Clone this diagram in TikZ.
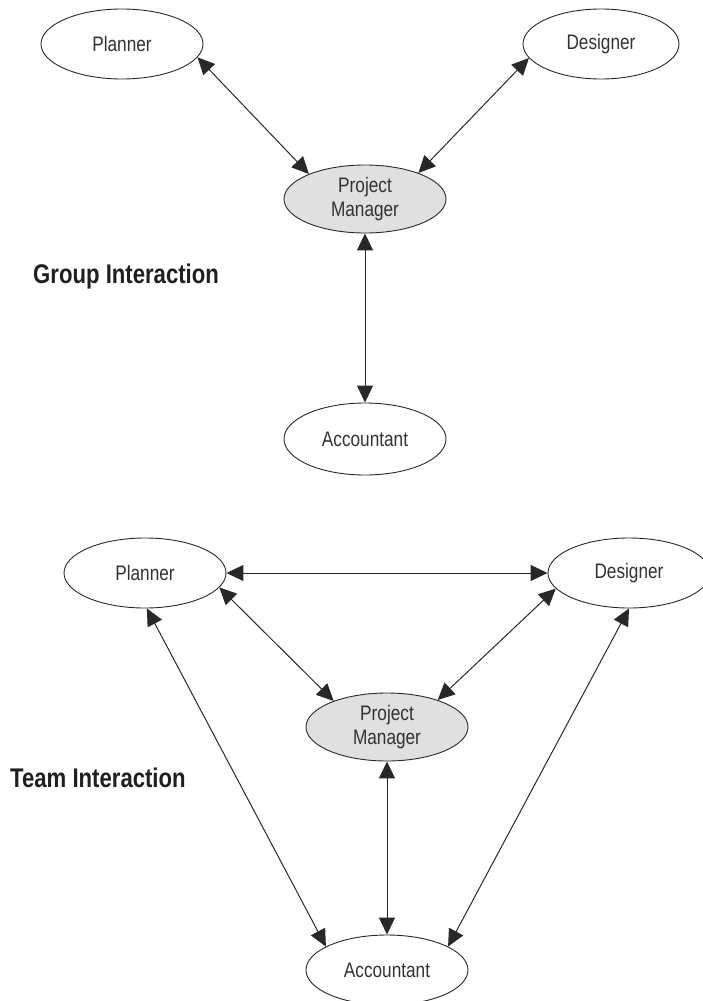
\documentclass[tikz,border=0pt]{standalone}
\usepackage{fontspec}
\setmainfont{Liberation Sans}[FakeStretch=0.82]
\usetikzlibrary{shapes.geometric,arrows.meta}
\definecolor{inkgray}{RGB}{40,40,40}
\definecolor{textgray}{RGB}{50,50,50}
\definecolor{pmfill}{RGB}{224,224,224}
\begin{document}
\begin{tikzpicture}[x=1pt,y=-1pt,
  role/.style={ellipse,draw=inkgray,line width=0.9pt,fill=white,inner sep=0pt,
    minimum width=162pt,minimum height=70pt,text=textgray,
    font=\fontsize{21}{24}\selectfont,align=center},
  lead/.style={role,fill=pmfill,minimum height=68pt},
  heading/.style={anchor=west,inner sep=0pt,text=black!88,
    font=\fontsize{27}{30}\selectfont\bfseries},
  link/.style={draw=inkgray,line width=1pt,
    {Triangle[length=17pt,width=16pt]}-{Triangle[length=17pt,width=16pt]}}]
\useasboundingbox (0,0) rectangle (702,1001);

% group interaction: everyone talks through the project manager
\node[role] (plannerA) at (122,44) {Planner};
\node[role,minimum width=156pt] (designerA) at (601,44) {Designer};
\node[lead] (managerA) at (365,199) {Project\\Manager};
\node[role,minimum height=72pt] (accountantA) at (365,439) {Accountant};
\node[heading] (groupLabel) at (33,277) {Group Interaction};

\draw[link] (plannerA.-10) -- (managerA.156);
\draw[link] (designerA.-169) -- (managerA.26);
\draw[link] (managerA.south) -- (accountantA.north);

% team interaction: every member also talks to every other member
\node[role] (plannerB) at (145,573) {Planner};
\node[role] (designerB) at (629,573) {Designer};
\node[lead] (managerB) at (387,727) {Project\\Manager};
\node[role] (accountantB) at (387,970) {Accountant};
\node[heading] (teamLabel) at (10,778) {Team Interaction};

\draw[link] (plannerB.east) -- (designerB.west);
\draw[link] (plannerB.-11) -- (managerB.154);
\draw[link] (designerB.-168) -- (managerB.28);
\draw[link] (plannerB.-87) -- (accountantB.159);
\draw[link] (designerB.-90) -- (accountantB.21);
\draw[link] (managerB.south) -- (accountantB.north);
\end{tikzpicture}
\end{document}
